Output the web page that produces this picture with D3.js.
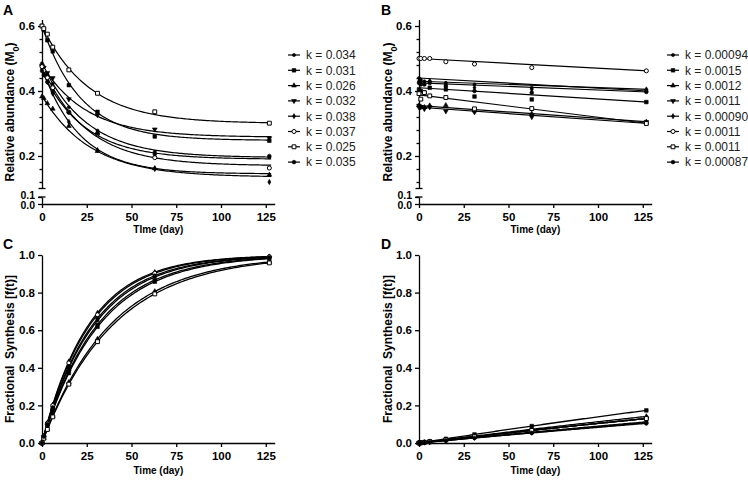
<!DOCTYPE html>
<html>
<head>
<meta charset="utf-8">
<script src="https://cdnjs.cloudflare.com/ajax/libs/d3/7.8.5/d3.min.js"></script>
<style>
  body { margin: 0; background: #fff; }
  text { font-family: Arial, "Liberation Sans", sans-serif; }
</style>
</head>
<body>
<script>
var width = 748;
var height = 480;

// sampling days
var days = [0, 1, 3, 6, 15, 31, 63, 127];
var xTicks = [0, 25, 50, 75, 100, 125];
var m0Major = [0.2, 0.4, 0.6];
var m0Minor = [0.12, 0.16, 0.24, 0.28, 0.32, 0.36, 0.44, 0.48, 0.52, 0.56];
var m0Low = [0, 0.1];
var fsTicks = [0, 0.2, 0.4, 0.6, 0.8, 1.0];

// panel A / C (legend order)
var kA = [0.034, 0.031, 0.026, 0.032, 0.038, 0.037, 0.025, 0.035];
var labelsA = ["k = 0.034", "k = 0.031", "k = 0.026", "k = 0.032", "k = 0.038", "k = 0.037", "k = 0.025", "k = 0.035"];
var m0A = [
  [0.485, 0.474, 0.452, 0.423, 0.350, 0.278, 0.213, 0.196],
  [0.600, 0.588, 0.556, 0.522, 0.418, 0.336, 0.260, 0.247],
  [0.383, 0.378, 0.362, 0.345, 0.292, 0.215, 0.162, 0.142],
  [0.478, 0.472, 0.456, 0.440, 0.375, 0.326, 0.282, 0.255],
  [0.468, 0.455, 0.427, 0.392, 0.305, 0.218, 0.160, 0.120],
  [0.475, 0.463, 0.441, 0.410, 0.335, 0.268, 0.195, 0.163],
  [0.600, 0.592, 0.575, 0.535, 0.465, 0.393, 0.336, 0.301],
  [0.462, 0.449, 0.428, 0.398, 0.334, 0.270, 0.206, 0.200]
];
// fitted one-phase decay
var fitStartA = [0.485, 0.600, 0.385, 0.480, 0.470, 0.475, 0.600, 0.460];
var fitPlateauA = [0.195, 0.248, 0.135, 0.258, 0.145, 0.170, 0.300, 0.190];
var fitRateA = [0.040, 0.046, 0.037, 0.040, 0.047, 0.040, 0.038, 0.042];
var fsC = [
  [0, 0.033, 0.097, 0.185, 0.400, 0.651, 0.883, 0.987],
  [0, 0.031, 0.089, 0.170, 0.372, 0.618, 0.858, 0.980],
  [0, 0.026, 0.075, 0.144, 0.323, 0.553, 0.806, 0.963],
  [0, 0.031, 0.092, 0.175, 0.381, 0.629, 0.867, 0.983],
  [0, 0.037, 0.108, 0.204, 0.434, 0.692, 0.909, 0.992],
  [0, 0.036, 0.105, 0.199, 0.426, 0.682, 0.903, 0.991],
  [0, 0.025, 0.072, 0.139, 0.313, 0.539, 0.793, 0.958],
  [0, 0.034, 0.100, 0.189, 0.408, 0.662, 0.890, 0.988]
];

// panel B / D (legend order)
var kB = [0.00094, 0.0015, 0.0012, 0.0011, 0.00090, 0.0011, 0.0011, 0.00087];
var labelsB = ["k = 0.00094", "k = 0.0015", "k = 0.0012", "k = 0.0011", "k = 0.00090", "k = 0.0011", "k = 0.0011", "k = 0.00087"];
var m0B = [
  [0.440, 0.435, 0.430, 0.430, 0.425, 0.420, 0.410, 0.400],
  [0.405, 0.400, 0.395, 0.410, 0.405, 0.383, 0.374, 0.366],
  [0.355, 0.352, 0.350, 0.355, 0.356, 0.340, 0.330, 0.305],
  [0.350, 0.350, 0.345, 0.350, 0.338, 0.335, 0.320, 0.305],
  [0.430, 0.430, 0.425, 0.430, 0.420, 0.410, 0.405, 0.405],
  [0.500, 0.500, 0.500, 0.500, 0.490, 0.483, 0.472, 0.462],
  [0.392, 0.375, 0.395, 0.385, 0.380, 0.345, 0.346, 0.300],
  [0.425, 0.420, 0.420, 0.425, 0.415, 0.400, 0.395, 0.397]
];
var fitStartB = [0.440, 0.410, 0.355, 0.350, 0.430, 0.500, 0.388, 0.425];
var fitEndB = [0.400, 0.366, 0.305, 0.300, 0.405, 0.462, 0.300, 0.397];
var fsD = [
  [0, 0.0009, 0.0028, 0.0056, 0.0140, 0.0287, 0.0575, 0.1125],
  [0, 0.0015, 0.0045, 0.0090, 0.0222, 0.0454, 0.0901, 0.1734],
  [0, 0.0012, 0.0036, 0.0072, 0.0178, 0.0365, 0.0728, 0.1414],
  [0, 0.0011, 0.0033, 0.0066, 0.0164, 0.0335, 0.0669, 0.1301],
  [0, 0.0009, 0.0027, 0.0054, 0.0134, 0.0275, 0.0551, 0.1079],
  [0, 0.0011, 0.0033, 0.0066, 0.0164, 0.0335, 0.0669, 0.1301],
  [0, 0.0011, 0.0033, 0.0066, 0.0164, 0.0335, 0.0669, 0.1301],
  [0, 0.0009, 0.0026, 0.0052, 0.0130, 0.0266, 0.0533, 0.1046]
];

// marker look per series
var markers = ["dot", "square", "triangle", "triangleDown", "diamond", "circleOpen", "squareOpen", "circle"];
var markerStyle = {
  dot:          {type: d3.symbolCircle, size: 8, open: false},
  square:       {type: d3.symbolSquare, size: 13, open: false},
  triangle:     {type: d3.symbolTriangle, size: 10, open: false},
  triangleDown: {type: d3.symbolTriangle, size: 10, open: false, rot: true},
  diamond:      {type: d3.symbolDiamond, size: 8, open: false},
  circleOpen:   {type: d3.symbolCircle, size: 13, open: true},
  squareOpen:   {type: d3.symbolSquare, size: 15, open: true},
  circle:       {type: d3.symbolCircle, size: 11, open: false}
};

var svg = d3.select("body")
            .append("svg")
            .attr("width", width)
            .attr("height", height)
            .style("background", "#fff");

var dayScale = 1.79;
function makeX(x0) {
  return d3.scaleLinear().domain([0, 130]).range([x0, x0 + 130 * dayScale]);
}

var yUp = d3.scaleLinear().domain([0.1, 0.62]).range([188.5, 19.5]);
var yLow = d3.scaleLinear().domain([0, 0.1]).range([204, 197]);
var yFs = d3.scaleLinear().domain([0, 1]).range([443, 255]);

var xA = makeX(42);
var xB = makeX(419);

function drawMarker(g, kind, x, y) {
  var s = markerStyle[kind];
  g.append("path")
   .attr("d", d3.symbol().type(s.type).size(s.size))
   .attr("transform", "translate(" + x + "," + y + ")" + (s.rot ? " rotate(180)" : ""))
   .style("fill", s.open ? "#fff" : "#000")
   .style("stroke", "#000")
   .style("stroke-width", s.open ? 1 : 0.6);
}

function styleAxis(sel) {
  sel.selectAll("path, line").style("stroke", "#000").style("stroke-width", 1.3);
  sel.selectAll("text")
     .style("font-family", "Arial, 'Liberation Sans', sans-serif")
     .style("font-size", "11.5px")
     .style("font-weight", "bold")
     .style("fill", "#000");
}

function xAxis(x, y0, title, titleY) {
  var ax = svg.append("g")
              .attr("transform", "translate(0," + y0 + ")")
              .call(d3.axisBottom(x).tickValues(xTicks).tickSize(4).tickSizeOuter(0).tickPadding(5));
  styleAxis(ax);
  svg.append("text")
     .attr("x", (x.range()[0] + x.range()[1]) / 2)
     .attr("y", titleY)
     .attr("text-anchor", "middle")
     .style("font-size", "10px")
     .style("font-weight", "bold")
     .text(title);
}

function yTitle(x, y, main, sub, after) {
  var t = svg.append("text")
             .attr("transform", "translate(" + x + "," + y + ") rotate(-90)")
             .attr("text-anchor", "middle")
             .style("font-size", "12px")
             .style("font-weight", "bold")
             .text(main);
  if (sub) {
    t.append("tspan").attr("baseline-shift", "sub").style("font-size", "9px").text(sub);
    t.append("tspan").text(after);
  }
}

function panelLetter(x, y, s) {
  svg.append("text").attr("x", x).attr("y", y)
     .style("font-size", "14px").style("font-weight", "bold").text(s);
}

// broken relative-abundance axis
function m0Axes(x, xTitle) {
  var x0 = x.range()[0];
  var up = svg.append("g")
              .attr("transform", "translate(" + x0 + ",0)")
              .call(d3.axisLeft(yUp).tickValues(m0Major).tickSize(4).tickSizeOuter(0).tickPadding(3)
                      .tickFormat(d3.format(".1f")));
  styleAxis(up);
  var minor = svg.append("g")
                 .attr("transform", "translate(" + x0 + ",0)")
                 .call(d3.axisLeft(yUp).tickValues(m0Minor).tickSize(2.5).tickFormat(""));
  styleAxis(minor);
  minor.select(".domain").remove();
  var low = svg.append("g")
               .attr("transform", "translate(" + x0 + ",0)")
               .call(d3.axisLeft(yLow).tickValues(m0Low).tickSize(4).tickSizeOuter(0).tickPadding(3)
                       .tickFormat(d3.format(".1f")));
  styleAxis(low);
  // the two labels at the break sit on top of each other in the original, pull them apart a little
  low.selectAll(".tick text")
     .style("font-size", "10.5px")
     .attr("y", function(d) { return d === 0 ? 1.5 : -2; });
  // caps at the break
  [yUp(0.1), yLow(0.1)].forEach(function(yy) {
    svg.append("line")
       .attr("x1", x0 - 3.5).attr("x2", x0 + 3.5)
       .attr("y1", yy).attr("y2", yy)
       .style("stroke", "#000").style("stroke-width", 1.3);
  });
  xAxis(x, 204, xTitle, 233);
}

function fsAxes(x) {
  var ax = svg.append("g")
              .attr("transform", "translate(" + x.range()[0] + ",0)")
              .call(d3.axisLeft(yFs).tickValues(fsTicks).tickSize(4).tickSizeOuter(0).tickPadding(3)
                      .tickFormat(d3.format(".1f")));
  styleAxis(ax);
  xAxis(x, 443, "Time (day)", 474);
}

function legend(x0, labels) {
  var g = svg.append("g");
  labels.forEach(function(lab, i) {
    var yy = 55 + i * 15.3;
    g.append("line")
     .attr("x1", x0).attr("x2", x0 + 12)
     .attr("y1", yy).attr("y2", yy)
     .style("stroke", "#000").style("stroke-width", 1.2);
    drawMarker(g, markers[i], x0 + 6, yy);
    g.append("text")
     .attr("x", x0 + 18)
     .attr("y", yy + 4.3)
     .style("font-size", "12px")
     .style("fill", "#222")
     .text(lab);
  });
}

var fitDays = d3.range(0, 128.5, 1);
var line = d3.line().x(function(d) { return d[0]; }).y(function(d) { return d[1]; });

function m0Y(v) { return v >= 0.1 ? yUp(v) : yLow(v); }

// ---- panel A
m0Axes(xA, "TIme (day)");
yTitle(14, 112, "Relative abundance (M", "0", ")");
panelLetter(3, 15, "A");
kA.forEach(function(k, i) {
  var pts = fitDays.map(function(t) {
    var v = fitPlateauA[i] + (fitStartA[i] - fitPlateauA[i]) * Math.exp(-fitRateA[i] * t);
    return [xA(t), yUp(v)];
  });
  svg.append("path").attr("d", line(pts))
     .style("fill", "none").style("stroke", "#000").style("stroke-width", 1.2);
});
var gA = svg.append("g");
m0A.forEach(function(vals, i) {
  vals.forEach(function(v, j) { drawMarker(gA, markers[i], xA(days[j]), m0Y(v)); });
});
legend(288, labelsA);

// ---- panel B
m0Axes(xB, "Time (day)");
yTitle(392, 112, "Relative abundance (M", "0", ")");
panelLetter(381, 15, "B");
kB.forEach(function(k, i) {
  var pts = [[xB(0), yUp(fitStartB[i])], [xB(128), yUp(fitEndB[i])]];
  svg.append("path").attr("d", line(pts))
     .style("fill", "none").style("stroke", "#000").style("stroke-width", 1.2);
});
var gB = svg.append("g");
m0B.forEach(function(vals, i) {
  vals.forEach(function(v, j) { drawMarker(gB, markers[i], xB(days[j]), m0Y(v)); });
});
legend(667, labelsB);

// ---- panel C
fsAxes(xA);
yTitle(14, 349, "Fractional\u00a0 Synthesis [f(t)]");
panelLetter(3, 249, "C");
kA.forEach(function(k) {
  var pts = fitDays.map(function(t) { return [xA(t), yFs(1 - Math.exp(-k * t))]; });
  svg.append("path").attr("d", line(pts))
     .style("fill", "none").style("stroke", "#000").style("stroke-width", 1.3);
});
var gC = svg.append("g");
fsC.forEach(function(vals, i) {
  vals.forEach(function(v, j) { drawMarker(gC, markers[i], xA(days[j]), yFs(v)); });
});

// ---- panel D
fsAxes(xB);
yTitle(392, 349, "Fractional\u00a0 Synthesis [f(t)]");
panelLetter(381, 249, "D");
kB.forEach(function(k) {
  var pts = fitDays.map(function(t) { return [xB(t), yFs(1 - Math.exp(-k * t))]; });
  svg.append("path").attr("d", line(pts))
     .style("fill", "none").style("stroke", "#000").style("stroke-width", 1.3);
});
var gD = svg.append("g");
fsD.forEach(function(vals, i) {
  vals.forEach(function(v, j) { drawMarker(gD, markers[i], xB(days[j]), yFs(v)); });
});
</script>
</body>
</html>
